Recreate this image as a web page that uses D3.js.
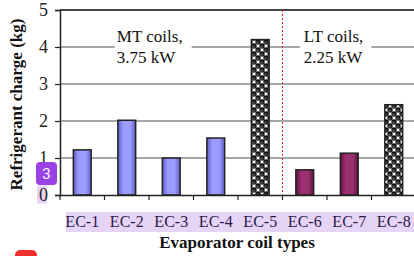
<!DOCTYPE html>
<html>
<head>
<meta charset="utf-8">
<script src="https://cdn.jsdelivr.net/npm/d3@7"></script>
<style>
  html, body { margin: 0; padding: 0; background: #fff; }
  svg { display: block; }
</style>
</head>
<body>
<div id="chart"></div>
<script>
// data
const coils = ['EC-1', 'EC-2', 'EC-3', 'EC-4', 'EC-5', 'EC-6', 'EC-7', 'EC-8']
const charge = [1.22, 2.02, 1.0, 1.54, 4.2, 0.68, 1.13, 2.44]
const kind = ['mt', 'mt', 'mt', 'mt', 'pattern', 'lt', 'lt', 'pattern']
const yTicks = [0, 1, 2, 3, 4, 5]

const width = 414
const height = 256
const margin = { top: 10, right: -2, bottom: 61, left: 60 }
const serif = "'Liberation Serif', 'Times New Roman', serif"

const svg = d3
  .select('#chart')
  .append('svg')
  .attr('width', width)
  .attr('height', height)

const defs = svg.append('defs')

// bar shading: darker at the edges, lighter in the middle
const fills = { mt: ['#5c5cc4', '#9c9cff'], lt: ['#5e1240', '#9a3070'] }
Object.entries(fills).forEach(([name, [edge, mid]]) => {
  const grad = defs.append('linearGradient').attr('id', `grad-${name}`)
  grad.append('stop').attr('offset', '0%').attr('stop-color', edge)
  grad.append('stop').attr('offset', '30%').attr('stop-color', mid)
  grad.append('stop').attr('offset', '70%').attr('stop-color', mid)
  grad.append('stop').attr('offset', '100%').attr('stop-color', edge)
})

// black spheres on white, offset rows
const ball = defs.append('radialGradient').attr('id', 'ball').attr('cx', '40%').attr('cy', '65%').attr('r', '60%')
ball.append('stop').attr('offset', '0%').attr('stop-color', '#555')
ball.append('stop').attr('offset', '100%').attr('stop-color', '#000')
const pat = defs
  .append('pattern')
  .attr('id', 'balls')
  .attr('width', 8)
  .attr('height', 8)
  .attr('patternUnits', 'userSpaceOnUse')
pat.append('rect').attr('width', 8).attr('height', 8).attr('fill', '#fff')
;[[2, 2], [6, 6], [6, -2], [-2, 6], [10, 2], [2, 10]].forEach(([cx, cy]) => {
  pat.append('circle').attr('cx', cx).attr('cy', cy).attr('r', 2.7).attr('fill', 'url(#ball)')
})

const x = d3
  .scaleBand()
  .domain(coils)
  .range([margin.left, width - margin.right])
  .paddingInner(0.6)
  .paddingOuter(0.3)

const y = d3
  .scaleLinear()
  .domain([0, 5])
  .range([height - margin.bottom, margin.top])

const plotRight = width - margin.right

// gridlines
svg
  .append('g')
  .selectAll('line')
  .data(yTicks.filter((d) => d > 0 && d < 5))
  .join('line')
  .attr('x1', margin.left)
  .attr('x2', plotRight)
  .attr('y1', (d) => y(d))
  .attr('y2', (d) => y(d))
  .attr('stroke', '#8a8a8a')
  .attr('stroke-width', 1.5)

// top frame line
svg
  .append('line')
  .attr('x1', margin.left)
  .attr('x2', plotRight)
  .attr('y1', y(5))
  .attr('y2', y(5))
  .attr('stroke', '#444')
  .attr('stroke-width', 2)

// annotation labels with white backing over the 4 kg gridline
const notes = [
  { lines: ['MT coils,', '3.75 kW'], at: 'EC-2', dx: -1, pad: [0, 7] },
  { lines: ['LT coils,', '2.25 kW'], at: 'EC-6', dx: 8, pad: [2, 6] }
]
notes.forEach((n) => {
  const g = svg.append('g')
  const bg = g.append('rect').attr('fill', '#fff')
  const t = g
    .append('text')
    .style('font-family', serif)
    .attr('font-size', 17)
    .attr('fill', '#111')
  n.lines.forEach((line, i) => {
    t.append('tspan')
      .attr('x', x(n.at) + n.dx)
      .attr('y', y(4) - 5 + i * 21)
      .text(line)
  })
  const bb = t.node().getBBox()
  bg.attr('x', bb.x - 2 - n.pad[0])
    .attr('y', bb.y)
    .attr('width', bb.width + 4 + n.pad[0] + n.pad[1])
    .attr('height', bb.height)
})

// divider between MT and LT coils
const divX = x('EC-6') - (x.step() - x.bandwidth()) / 2
svg
  .append('line')
  .attr('x1', divX)
  .attr('x2', divX)
  .attr('y1', y(5))
  .attr('y2', y(0) + 5)
  .attr('stroke', '#e02020')
  .attr('stroke-width', 1)
  .attr('stroke-dasharray', '2,2')

// bars
svg
  .append('g')
  .selectAll('rect')
  .data(coils)
  .join('rect')
  .attr('x', (d) => x(d))
  .attr('width', x.bandwidth())
  .attr('y', (d, i) => y(charge[i]))
  .attr('height', (d, i) => y(0) - y(charge[i]))
  .attr('fill', (d, i) => (kind[i] === 'pattern' ? 'url(#balls)' : `url(#grad-${kind[i]})`))
  .attr('stroke', '#222')
  .attr('stroke-width', 1.5)

// x axis
const xAxis = svg
  .append('g')
  .attr('transform', `translate(0,${y(0)})`)
  .call(
    d3
      .axisBottom(x)
      .tickSize(0)
      .tickFormat(() => '')
  )
xAxis.select('.domain').attr('stroke', '#222').attr('stroke-width', 1.5)
// category separators below the axis
xAxis
  .selectAll('line.sep')
  .data(coils)
  .join('line')
  .attr('class', 'sep')
  .attr('x1', (d) => x(d) - (x.step() - x.bandwidth()) / 2)
  .attr('x2', (d) => x(d) - (x.step() - x.bandwidth()) / 2)
  .attr('y1', 0)
  .attr('y2', 5)
  .attr('stroke', '#222')
  .attr('stroke-width', 1.2)

// lavender highlight behind the category labels
svg
  .append('rect')
  .attr('x', 66)
  .attr('y', 212)
  .attr('width', width - 66)
  .attr('height', 20)
  .attr('fill', '#e6d4f7')

svg
  .append('g')
  .selectAll('text')
  .data(coils)
  .join('text')
  .attr('x', (d) => x(d) + x.bandwidth() / 2)
  .attr('y', 227)
  .attr('text-anchor', 'middle')
  .style('font-family', serif)
  .attr('font-size', 16)
  .attr('fill', '#2a1a48')
  .text((d) => d)

// y axis
const yAxis = svg
  .append('g')
  .attr('transform', `translate(${margin.left},0)`)
  .call(d3.axisLeft(y).tickValues(yTicks).tickFormat(d3.format('d')).tickSize(5).tickPadding(7))
yAxis.select('.domain').attr('stroke', '#222').attr('stroke-width', 1.5)
yAxis.selectAll('.tick line').attr('stroke', '#222').attr('stroke-width', 1.2)
yAxis
  .selectAll('.tick text')
  .style('font-family', serif)
  .attr('font-size', 18)
  .attr('fill', '#222')

// highlight behind the 0 tick label
yAxis
  .select('.tick')
  .insert('rect', 'text')
  .attr('x', -23)
  .attr('y', -10)
  .attr('width', 10)
  .attr('height', 18)
  .attr('fill', '#e6d4f7')

// axis titles
svg
  .append('text')
  .attr('transform', `translate(22,${(y(0) + y(5)) / 2 + 2}) rotate(-90)`)
  .attr('text-anchor', 'middle')
  .style('font-family', serif)
  .attr('font-weight', 'bold')
  .attr('font-size', 17)
  .attr('fill', '#111')
  .text('Refrigerant charge (kg)')

svg
  .append('text')
  .attr('x', 237)
  .attr('y', 248)
  .attr('text-anchor', 'middle')
  .style('font-family', serif)
  .attr('font-weight', 'bold')
  .attr('font-size', 17)
  .attr('fill', '#111')
  .text('Evaporator coil types')

// purple badge
const badge = svg.append('g').attr('transform', 'translate(36,162)')
badge.append('rect').attr('width', 21).attr('height', 23).attr('rx', 4).attr('fill', '#9b42e6')
badge
  .append('text')
  .attr('x', 10.5)
  .attr('y', 17)
  .attr('text-anchor', 'middle')
  .style('font-family', 'Roboto, sans-serif')
  .attr('font-size', 15)
  .attr('fill', '#fff')
  .text('3')

// red marker peeking in at the bottom
svg
  .append('rect')
  .attr('x', 15)
  .attr('y', 250)
  .attr('width', 22)
  .attr('height', 14)
  .attr('rx', 5)
  .attr('fill', '#f03030')
</script>
</body>
</html>
